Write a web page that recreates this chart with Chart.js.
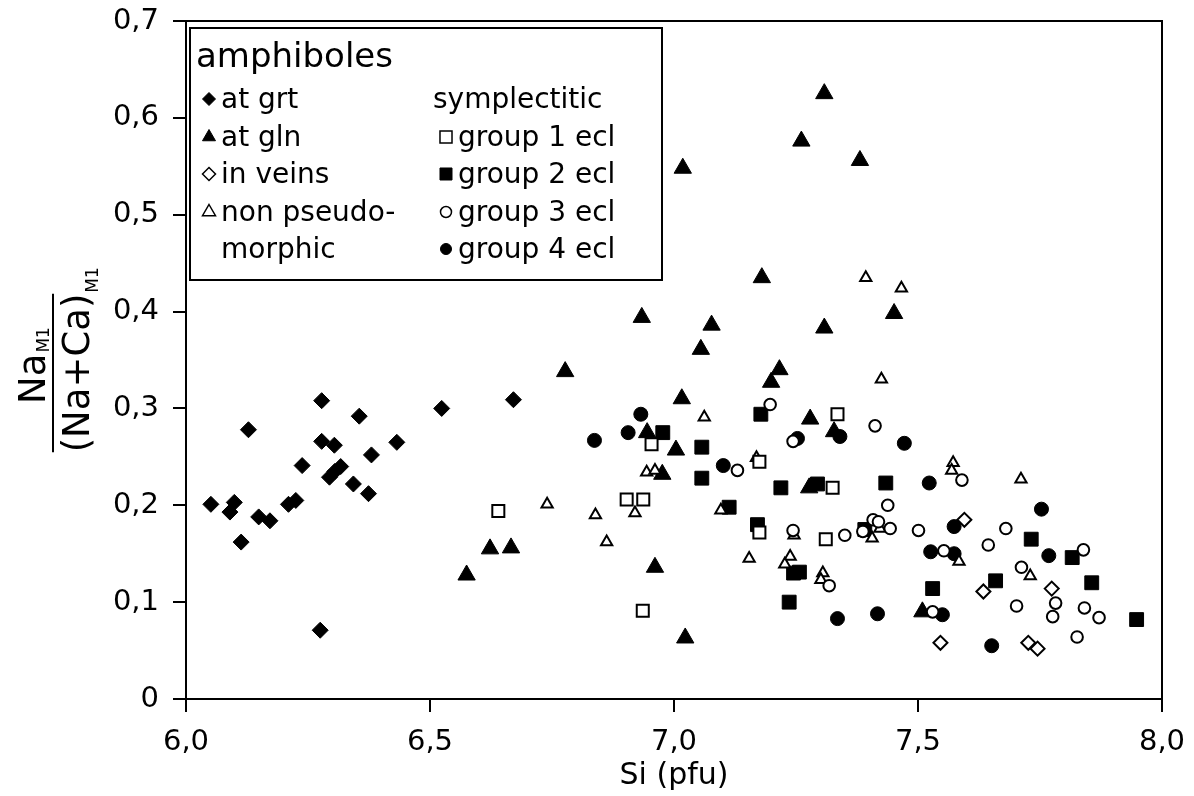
<!DOCTYPE html>
<html>
<head>
<meta charset="utf-8">
<script src="https://cdn.jsdelivr.net/npm/chart.js@4.4.0/dist/chart.umd.min.js"></script>
<style>
  body { margin: 0; background: #fff; }
  #wrap { width: 1194px; height: 796px; }
</style>
</head>
<body>
<div id="wrap"><canvas id="scatter_chart" width="1194" height="796"></canvas></div>
<script>
var FONT = '"DejaVu Sans", sans-serif';

// amphiboles at garnet (filled diamonds)
var grtSi = [6.051, 6.099, 6.090, 6.113, 6.128, 6.149, 6.172, 6.210, 6.225, 6.238, 6.278, 6.278, 6.304, 6.294, 6.305, 6.317, 6.343, 6.355, 6.374, 6.380, 6.432, 6.524, 6.275, 6.671];
var grtNa = [0.201, 0.203, 0.193, 0.162, 0.278, 0.188, 0.184, 0.201, 0.205, 0.241, 0.308, 0.266, 0.262, 0.229, 0.235, 0.240, 0.222, 0.292, 0.212, 0.252, 0.265, 0.300, 0.071, 0.309];

// amphiboles at glaucophane (filled triangles)
var glnSi = [6.934, 6.777, 7.016, 6.945, 7.004, 6.976, 6.623, 6.666, 6.575, 6.961, 7.023, 7.308, 7.261, 7.381, 7.018, 7.180, 7.451, 7.077, 7.308, 7.055, 7.216, 7.199, 7.279, 7.328, 7.277, 7.509];
var glnNa = [0.394, 0.338, 0.310, 0.275, 0.257, 0.232, 0.155, 0.156, 0.128, 0.136, 0.063, 0.625, 0.576, 0.556, 0.548, 0.435, 0.398, 0.386, 0.383, 0.361, 0.340, 0.327, 0.289, 0.276, 0.218, 0.090];

// in veins (open diamonds)
var veinSi = [7.546, 7.595, 7.634, 7.774, 7.726, 7.745];
var veinNa = [0.058, 0.185, 0.111, 0.114, 0.058, 0.052];

// non pseudomorphic (open triangles)
var nonpSi = [6.944, 6.961, 6.920, 6.740, 6.839, 6.862, 7.393, 7.466, 7.425, 7.062, 7.169, 7.096, 7.246, 7.422, 7.406, 7.154, 7.238, 7.227, 7.305, 7.301, 7.572, 7.569, 7.711, 7.584, 7.730];
var nonpNa = [0.234, 0.236, 0.192, 0.201, 0.190, 0.162, 0.435, 0.424, 0.330, 0.291, 0.249, 0.195, 0.169, 0.176, 0.166, 0.145, 0.147, 0.139, 0.130, 0.123, 0.244, 0.236, 0.227, 0.142, 0.127];

// symplectitic, group 1 eclogite (open squares)
var g1Si = [6.954, 6.903, 6.937, 6.640, 6.936, 7.335, 7.175, 7.325, 7.175, 7.311];
var g1Na = [0.263, 0.206, 0.206, 0.194, 0.091, 0.294, 0.245, 0.218, 0.172, 0.165];

// group 2 eclogite (filled squares)
var g2Si = [6.977, 7.057, 7.057, 7.178, 7.219, 7.294, 7.434, 7.113, 7.171, 7.391, 7.245, 7.257, 7.236, 7.530, 7.732, 7.816, 7.659, 7.856, 7.948];
var g2Na = [0.275, 0.260, 0.228, 0.294, 0.218, 0.222, 0.223, 0.198, 0.180, 0.175, 0.130, 0.131, 0.100, 0.114, 0.165, 0.146, 0.122, 0.120, 0.082];

// group 3 eclogite (open circles)
var g3Si = [7.197, 7.412, 7.244, 7.130, 7.244, 7.350, 7.438, 7.408, 7.419, 7.387, 7.443, 7.501, 7.318, 7.530, 7.553, 7.590, 7.680, 7.644, 7.839, 7.712, 7.782, 7.702, 7.776, 7.841, 7.871, 7.826];
var g3Na = [0.304, 0.282, 0.266, 0.236, 0.174, 0.169, 0.200, 0.185, 0.183, 0.173, 0.176, 0.174, 0.117, 0.090, 0.153, 0.226, 0.176, 0.159, 0.154, 0.136, 0.099, 0.096, 0.085, 0.094, 0.084, 0.064];

// group 4 eclogite (filled circles)
var g4Si = [6.932, 6.906, 6.837, 7.340, 7.472, 7.253, 7.101, 7.523, 7.335, 7.417, 7.550, 7.526, 7.753, 7.574, 7.574, 7.768, 7.651];
var g4Na = [0.294, 0.275, 0.267, 0.271, 0.264, 0.269, 0.241, 0.223, 0.083, 0.088, 0.087, 0.152, 0.196, 0.178, 0.150, 0.148, 0.055];

var xTicks = [6.0, 6.5, 7.0, 7.5, 8.0];
var yTicks = [0, 0.1, 0.2, 0.3, 0.4, 0.5, 0.6, 0.7];

function toPoints(xs, ys) {
    return xs.map(function (x, i) { return { x: x, y: ys[i] }; });
}

function makeSet(label, xs, ys, style, radius, open) {
    return {
        label: label,
        data: toPoints(xs, ys),
        pointStyle: style,
        pointRadius: radius,
        pointHoverRadius: radius,
        pointBackgroundColor: open ? '#fff' : '#000',
        pointBorderColor: '#000',
        pointBorderWidth: open ? 2 : 1,
        showLine: false
    };
}

function comma(v) {
    if (Math.abs(v) < 1e-9) return '0';
    return v.toFixed(1).replace('.', ',');
}

function drawMarker(ctx, style, x, y, r, open) {
    ctx.beginPath();
    if (style === 'rectRot') {
        ctx.moveTo(x, y - r); ctx.lineTo(x + r, y); ctx.lineTo(x, y + r); ctx.lineTo(x - r, y);
    } else if (style === 'triangle') {
        ctx.moveTo(x, y - r); ctx.lineTo(x + r * 0.866, y + r / 2); ctx.lineTo(x - r * 0.866, y + r / 2);
    } else if (style === 'rect') {
        var s = r * 0.707;
        ctx.rect(x - s, y - s, 2 * s, 2 * s);
    } else {
        ctx.arc(x, y, r, 0, Math.PI * 2);
    }
    ctx.closePath();
    ctx.fillStyle = open ? '#fff' : '#000';
    ctx.fill();
    ctx.lineWidth = open ? 1.5 : 1;
    ctx.strokeStyle = '#000';
    ctx.stroke();
}

// frame around the plot area (top and right sides)
var framePlugin = {
    id: 'frame',
    afterDraw: function (chart) {
        var a = chart.chartArea, ctx = chart.ctx;
        ctx.save();
        ctx.lineWidth = 2;
        ctx.strokeStyle = '#000';
        ctx.strokeRect(a.left, a.top, a.right - a.left, a.bottom - a.top);
        ctx.restore();
    }
};

// legend box drawn inside the plot
var legendPlugin = {
    id: 'boxLegend',
    afterDraw: function (chart) {
        var ctx = chart.ctx;
        ctx.save();
        ctx.fillStyle = '#fff';
        ctx.fillRect(190, 28, 472, 252);
        ctx.lineWidth = 2;
        ctx.strokeStyle = '#000';
        ctx.strokeRect(190, 28, 472, 252);

        ctx.fillStyle = '#000';
        ctx.textBaseline = 'alphabetic';
        ctx.textAlign = 'left';
        ctx.font = '34px ' + FONT;
        ctx.fillText('amphiboles', 196, 67);

        ctx.font = '28px ' + FONT;
        var rows = [108, 146, 183, 221, 258];
        var left = [
            ['rectRot', false, 'at grt'],
            ['triangle', false, 'at gln'],
            ['rectRot', true, 'in veins'],
            ['triangle', true, 'non pseudo-'],
            [null, false, 'morphic']
        ];
        var right = [
            [null, false, 'symplectitic'],
            ['rect', true, 'group 1 ecl'],
            ['rect', false, 'group 2 ecl'],
            ['circle', true, 'group 3 ecl'],
            ['circle', false, 'group 4 ecl']
        ];
        left.forEach(function (e, i) {
            if (e[0]) drawMarker(ctx, e[0], 209, rows[i] - 9, e[0] === 'triangle' ? 7.5 : 6.5, e[1]);
            ctx.fillStyle = '#000';
            ctx.fillText(e[2], 221, rows[i]);
        });
        right.forEach(function (e, i) {
            if (e[0]) {
                drawMarker(ctx, e[0], 446, rows[i] - 9, e[0] === 'rect' ? 8.5 : 5.5, e[1]);
                ctx.fillStyle = '#000';
                ctx.fillText(e[2], 458, rows[i]);
            } else {
                ctx.fillText(e[2], 433, rows[i]);
            }
        });
        ctx.restore();
    }
};

// rotated y axis title: Na(M1) / (Na+Ca)(M1)
var yTitlePlugin = {
    id: 'yTitle',
    afterDraw: function (chart) {
        var ctx = chart.ctx;
        ctx.save();
        ctx.translate(53, 373);
        ctx.rotate(-Math.PI / 2);
        ctx.fillStyle = '#000';
        ctx.strokeStyle = '#000';
        ctx.textAlign = 'left';
        ctx.textBaseline = 'alphabetic';

        var big = '37px ' + FONT, small = '17px ' + FONT;
        ctx.font = big;
        var nw = ctx.measureText('Na').width;
        var dw = ctx.measureText('(Na+Ca)').width;
        ctx.font = small;
        var sw = ctx.measureText('M1').width;

        var nx = 7 - (nw + sw) / 2;
        ctx.font = big;
        ctx.fillText('Na', nx, -8);
        ctx.font = small;
        ctx.fillText('M1', nx + nw + 1, -4);

        var dx = -dw / 2;
        ctx.font = big;
        ctx.fillText('(Na+Ca)', dx, 36);
        ctx.font = small;
        ctx.fillText('M1', dx + dw + 1, 45);

        ctx.lineWidth = 2;
        ctx.beginPath();
        ctx.moveTo(-dw / 2, 0);
        ctx.lineTo(dw / 2, 0);
        ctx.stroke();
        ctx.restore();
    }
};

Chart.defaults.font.family = FONT;
Chart.defaults.color = '#000';

new Chart(document.getElementById('scatter_chart').getContext('2d'), {
    type: 'scatter',
    data: {
        datasets: [
            makeSet('group 3 ecl', g3Si, g3Na, 'circle', 5.8, true),
            makeSet('group 1 ecl', g1Si, g1Na, 'rect', 8.5, true),
            makeSet('non pseudomorphic', nonpSi, nonpNa, 'triangle', 6.5, true),
            makeSet('in veins', veinSi, veinNa, 'rectRot', 7, true),
            makeSet('group 4 ecl', g4Si, g4Na, 'circle', 7, false),
            makeSet('group 2 ecl', g2Si, g2Na, 'rect', 9.8, false),
            makeSet('at gln', glnSi, glnNa, 'triangle', 10, false),
            makeSet('at grt', grtSi, grtNa, 'rectRot', 8, false)
        ]
    },
    options: {
        responsive: false,
        animation: false,
        events: [],
        layout: { autoPadding: false, padding: { left: 0, right: 32, top: 21, bottom: 0 } },
        plugins: {
            legend: { display: false },
            tooltip: { enabled: false }
        },
        scales: {
            x: {
                type: 'linear',
                min: 6,
                max: 8,
                afterBuildTicks: function (scale) {
                    scale.ticks = xTicks.map(function (v) { return { value: v }; });
                },
                afterFit: function (scale) {
                    scale.height = 97;
                    scale.paddingLeft = 0;
                    scale.paddingRight = 0;
                },
                border: { display: true, color: '#000', width: 2 },
                grid: { drawOnChartArea: false, drawTicks: true, tickLength: 13, color: '#000', lineWidth: 2 },
                ticks: {
                    font: { size: 29 },
                    padding: 13,
                    maxRotation: 0,
                    callback: function (v) { return comma(v); }
                },
                title: {
                    display: true,
                    text: 'Si (pfu)',
                    font: { size: 30 },
                    padding: { top: 0, bottom: 2 }
                }
            },
            y: {
                type: 'linear',
                min: 0,
                max: 0.7,
                afterBuildTicks: function (scale) {
                    scale.ticks = yTicks.map(function (v) { return { value: v }; });
                },
                afterFit: function (scale) {
                    scale.width = 186;
                    scale.paddingTop = 0;
                    scale.paddingBottom = 0;
                },
                border: { display: true, color: '#000', width: 2 },
                grid: { drawOnChartArea: false, drawTicks: true, tickLength: 13, color: '#000', lineWidth: 2 },
                ticks: {
                    font: { size: 29 },
                    padding: 14,
                    callback: function (v) { return comma(v); }
                }
            }
        }
    },
    plugins: [framePlugin, legendPlugin, yTitlePlugin]
});
</script>
</body>
</html>
